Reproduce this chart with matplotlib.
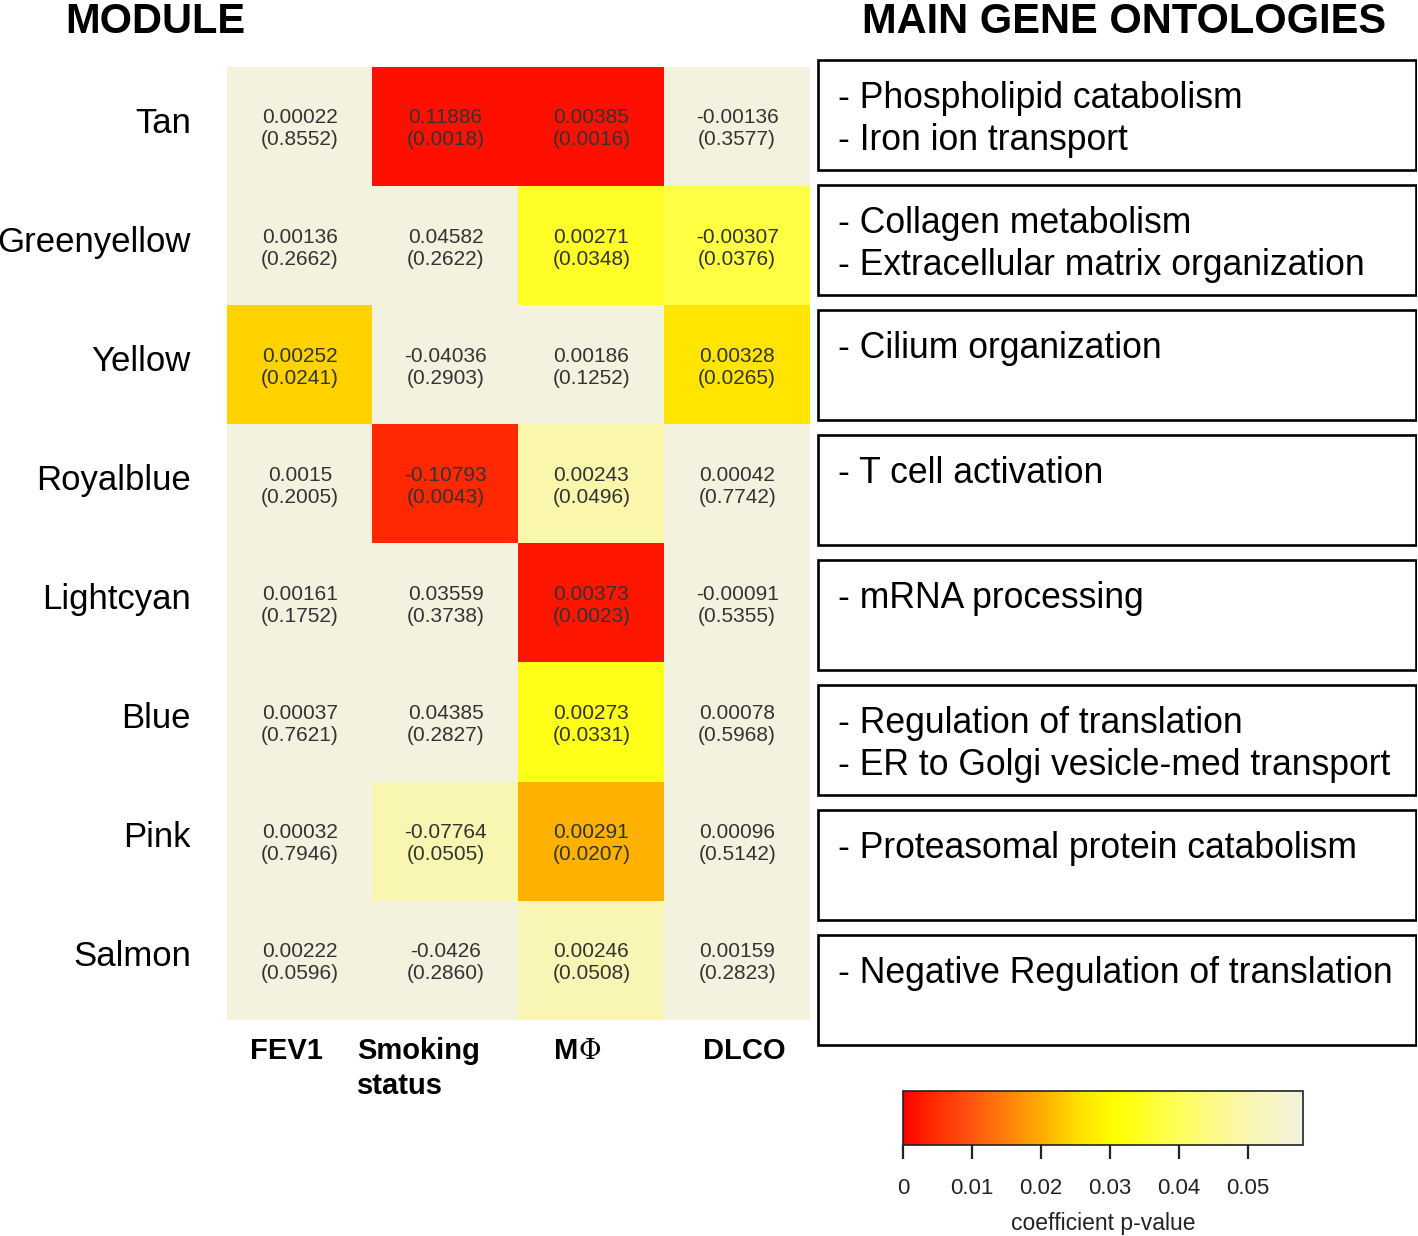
import numpy as np
import matplotlib
matplotlib.use("Agg")
import matplotlib.pyplot as plt
from matplotlib.colors import LinearSegmentedColormap, Normalize
from matplotlib.patches import Rectangle
from matplotlib.transforms import ScaledTranslation

plt.rcParams['font.family'] = ['Liberation Sans', 'DejaVu Sans']

# ---------------- data ----------------
modules = ["Tan", "Greenyellow", "Yellow", "Royalblue", "Lightcyan", "Blue", "Pink", "Salmon"]
traits = ["FEV1", "Smoking status", "MΦ", "DLCO"]

coef_fev1 = [0.00022, 0.00136, 0.00252, 0.0015, 0.00161, 0.00037, 0.00032, 0.00222]
coef_smoking = [0.11886, 0.04582, -0.04036, -0.10793, 0.03559, 0.04385, -0.07764, -0.0426]
coef_mphi = [0.00385, 0.00271, 0.00186, 0.00243, 0.00373, 0.00273, 0.00291, 0.00246]
coef_dlco = [-0.00136, -0.00307, 0.00328, 0.00042, -0.00091, 0.00078, 0.00096, 0.00159]

p_fev1 = [0.8552, 0.2662, 0.0241, 0.2005, 0.1752, 0.7621, 0.7946, 0.0596]
p_smoking = [0.0018, 0.2622, 0.2903, 0.0043, 0.3738, 0.2827, 0.0505, 0.2860]
p_mphi = [0.0016, 0.0348, 0.1252, 0.0496, 0.0023, 0.0331, 0.0207, 0.0508]
p_dlco = [0.3577, 0.0376, 0.0265, 0.7742, 0.5355, 0.5968, 0.5142, 0.2823]

ontologies = [
    ["- Phospholipid catabolism", "- Iron ion transport"],
    ["- Collagen metabolism", "- Extracellular matrix organization"],
    ["- Cilium organization"],
    ["- T cell activation"],
    ["- mRNA processing"],
    ["- Regulation of translation", "- ER to Golgi vesicle-med transport"],
    ["- Proteasomal protein catabolism"],
    ["- Negative Regulation of translation"],
]

cbar_ticks = [0, 0.01, 0.02, 0.03, 0.04, 0.05]
cbar_ticklabels = ["0", "0.01", "0.02", "0.03", "0.04", "0.05"]
vmax = 0.058

coef = np.array([coef_fev1, coef_smoking, coef_mphi, coef_dlco]).T
pval = np.array([p_fev1, p_smoking, p_mphi, p_dlco]).T

# ---------------- colormap ----------------
nodes = [
    (0.0, "#FF0000"),
    (0.069, "#FF2800"),
    (0.172, "#FF5512"),
    (0.357, "#FFB200"),
    (0.416, "#FFD300"),
    (0.457, "#FFE700"),
    (0.534, "#FFFF00"),
    (0.648, "#FFFF45"),
    (0.862, "#FAF7B0"),
    (1.0, "#F3F2DE"),
]
cmap = LinearSegmentedColormap.from_list("pheat", nodes)
cmap.set_over("#F3F2DE")
norm = Normalize(vmin=0, vmax=vmax)

W, H = 1418, 1236
fig = plt.figure(figsize=(W / 100, H / 100), dpi=100)

def fx(px):
    return px / W

def fy(py):
    return 1 - py / H

# ---------------- heatmap ----------------
ax = fig.add_axes([fx(227), fy(1020), fx(810) - fx(227), fy(67) - fy(1020)])
nrow, ncol = pval.shape
im = ax.imshow(pval, cmap=cmap, norm=norm, aspect="auto",
               extent=(-0.5, ncol - 0.5, nrow - 0.5, -0.5), interpolation="nearest")
for i in range(nrow):
    for j in range(ncol):
        ax.text(j, i + 0.02, f"{coef[i, j]}\n({pval[i, j]:.4f})", ha="center", va="center",
                fontsize=15, color="#333333", linespacing=1.2)
ax.set_xticks([])
ax.set_yticks(range(nrow))
ax.set_yticklabels(modules, fontsize=25)
ax.tick_params(axis="y", length=0, pad=26)
for lbl in ax.get_yticklabels():
    lbl.set_transform(lbl.get_transform() + ScaledTranslation(0, 5 / 72, fig.dpi_scale_trans))
for s in ax.spines.values():
    s.set_visible(False)

# column labels
fig.text(fx(250), fy(1059), "FEV1", fontsize=21, fontweight="bold", va="baseline", ha="left")
fig.text(fx(357), fy(1059), "Smoking", fontsize=21, fontweight="bold", va="baseline", ha="left")
fig.text(fx(357), fy(1094), "status", fontsize=21, fontweight="bold", va="baseline", ha="left")
fig.text(fx(554), fy(1059), "M", fontsize=21, fontweight="bold", va="baseline", ha="left")
fig.text(fx(579), fy(1059), "Φ", fontsize=20, family=["DejaVu Serif"], va="baseline", ha="left")
fig.text(fx(703), fy(1059), "DLCO", fontsize=21, fontweight="bold", va="baseline", ha="left")

# titles
fig.text(fx(65), fy(33), "MODULE", fontsize=30, fontweight="bold", va="baseline", ha="left")
fig.text(fx(1124), fy(33), "MAIN GENE ONTOLOGIES", fontsize=30, fontweight="bold",
         va="baseline", ha="center")

# ---------------- ontology boxes ----------------
ax2 = fig.add_axes([fx(817), fy(1055), fx(1417) - fx(817), fy(55) - fy(1055)])
ax2.set_xlim(0, 1)
ax2.set_ylim(len(ontologies), 0)
ax2.axis("off")
for i, lines in enumerate(ontologies):
    ax2.add_patch(Rectangle((0.002, i + 0.04), 0.996, 0.88, fill=False,
                            edgecolor="black", linewidth=1.9))
    for k, line in enumerate(lines):
        ax2.text(0.035, i + 0.345 + k * 0.336, line, fontsize=25.6, va="center", ha="left")

# ---------------- colorbar ----------------
cax = fig.add_axes([fx(903), fy(1145), fx(1303) - fx(903), fy(1091) - fy(1145)])
cb = fig.colorbar(im, cax=cax, orientation="horizontal")
cb.set_ticks(cbar_ticks)
cb.set_ticklabels(cbar_ticklabels)
cb.outline.set_linewidth(1.2)
cb.outline.set_edgecolor("#222222")
cax.tick_params(axis="x", length=10, width=1.6, pad=14, labelsize=16, colors="#222222",
                direction="out")
cb.set_label("coefficient p-value", fontsize=16.5, color="#222222", labelpad=9)

fig.savefig("out.png", dpi=100)
